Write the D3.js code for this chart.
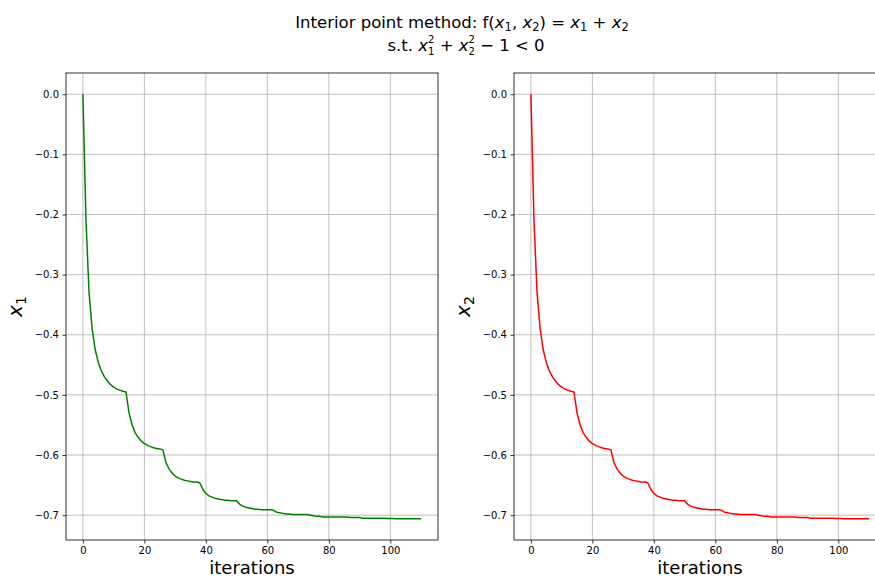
<!DOCTYPE html>
<html>
<head>
<meta charset="utf-8">
<script src="https://cdn.jsdelivr.net/npm/d3@7"></script>
<style>
  html, body { margin: 0; padding: 0; background: #fff; overflow: hidden; }
  svg { display: block; font-family: "DejaVu Sans", sans-serif; }
</style>
</head>
<body>
<svg id="chart" width="875" height="578"></svg>
<script>
// Iteration index of every recorded step
const iterations = d3.range(0, 111);

// Trajectory of x1 under the log-barrier interior point method
const x1Values = [
  0.000, -0.210, -0.330, -0.390, -0.425, -0.446, -0.460, -0.470, -0.477, -0.483,
  -0.487, -0.490, -0.492, -0.494, -0.495,
  -0.530, -0.550, -0.563, -0.571, -0.577, -0.581, -0.584, -0.586, -0.588, -0.589,
  -0.590, -0.591,
  -0.612, -0.623, -0.630, -0.635, -0.638, -0.640, -0.642, -0.643, -0.644, -0.645,
  -0.645, -0.646,
  -0.657, -0.664, -0.668, -0.670, -0.672, -0.673, -0.674, -0.675, -0.675, -0.676,
  -0.676, -0.676,
  -0.682, -0.685, -0.687, -0.688, -0.689, -0.690, -0.690, -0.691, -0.691, -0.691,
  -0.691, -0.692,
  -0.695, -0.696, -0.697, -0.698, -0.698, -0.699, -0.699, -0.699, -0.699, -0.699,
  -0.699, -0.700,
  -0.701, -0.702, -0.702, -0.703, -0.703, -0.703, -0.703, -0.703, -0.703, -0.703,
  -0.703, -0.703,
  -0.704, -0.704, -0.704, -0.704, -0.705, -0.705, -0.705, -0.705, -0.705, -0.705,
  -0.705, -0.705,
  -0.7055, -0.7055, -0.7055, -0.706, -0.706, -0.706, -0.706, -0.706, -0.706, -0.706,
  -0.706, -0.706
];

// Trajectory of x2 (the problem is symmetric, so it follows x1)
const x2Values = [
  0.000, -0.210, -0.330, -0.390, -0.425, -0.446, -0.460, -0.470, -0.477, -0.483,
  -0.487, -0.490, -0.492, -0.494, -0.495,
  -0.530, -0.550, -0.563, -0.571, -0.577, -0.581, -0.584, -0.586, -0.588, -0.589,
  -0.590, -0.591,
  -0.612, -0.623, -0.630, -0.635, -0.638, -0.640, -0.642, -0.643, -0.644, -0.645,
  -0.645, -0.646,
  -0.657, -0.664, -0.668, -0.670, -0.672, -0.673, -0.674, -0.675, -0.675, -0.676,
  -0.676, -0.676,
  -0.682, -0.685, -0.687, -0.688, -0.689, -0.690, -0.690, -0.691, -0.691, -0.691,
  -0.691, -0.692,
  -0.695, -0.696, -0.697, -0.698, -0.698, -0.699, -0.699, -0.699, -0.699, -0.699,
  -0.699, -0.700,
  -0.701, -0.702, -0.702, -0.703, -0.703, -0.703, -0.703, -0.703, -0.703, -0.703,
  -0.703, -0.703,
  -0.704, -0.704, -0.704, -0.704, -0.705, -0.705, -0.705, -0.705, -0.705, -0.705,
  -0.705, -0.705,
  -0.7055, -0.7055, -0.7055, -0.706, -0.706, -0.706, -0.706, -0.706, -0.706, -0.706,
  -0.706, -0.706
];

const xTicks = [0, 20, 40, 60, 80, 100];
const yTicks = [0.0, -0.1, -0.2, -0.3, -0.4, -0.5, -0.6, -0.7];

const panels = [
  { values: x1Values, color: "#008000", sub: "1", left: 66 },
  { values: x2Values, color: "#ff0000", sub: "2", left: 514 }
];

const svg = d3.select("#chart");
const plotW = 372, plotTop = 73, plotBottom = 540;
const fmt = v => d3.format(".1f")(v).replace("-", "\u2212");

// autoscale with 5% padding on each side
function padded(ext) {
  const m = (ext[1] - ext[0]) * 0.05;
  return [ext[0] - m, ext[1] + m];
}

panels.forEach(p => {
  const x = d3.scaleLinear().domain(padded(d3.extent(iterations))).range([p.left, p.left + plotW]);
  const y = d3.scaleLinear().domain(padded(d3.extent(p.values))).range([plotBottom, plotTop]);
  const g = svg.append("g");

  // grid
  g.append("g").selectAll("line").data(xTicks).join("line")
    .attr("x1", d => x(d)).attr("x2", d => x(d)).attr("y1", plotTop).attr("y2", plotBottom)
    .attr("stroke", "#b0b0b0").attr("stroke-width", 0.8);
  g.append("g").selectAll("line").data(yTicks).join("line")
    .attr("x1", p.left).attr("x2", p.left + plotW).attr("y1", d => y(d)).attr("y2", d => y(d))
    .attr("stroke", "#b0b0b0").attr("stroke-width", 0.8);

  // trajectory
  g.append("path")
    .datum(iterations.map((it, i) => [it, p.values[i]]))
    .attr("fill", "none").attr("stroke", p.color).attr("stroke-width", 1.5)
    .attr("stroke-linejoin", "round")
    .attr("d", d3.line().x(d => x(d[0])).y(d => y(d[1])));

  // axes
  const xAxis = g.append("g").attr("transform", `translate(0,${plotBottom})`)
    .call(d3.axisBottom(x).tickValues(xTicks).tickSize(3.5).tickPadding(3.5).tickFormat(d3.format("d")));
  const yAxis = g.append("g").attr("transform", `translate(${p.left},0)`)
    .call(d3.axisLeft(y).tickValues(yTicks).tickSize(3.5).tickPadding(3.5).tickFormat(fmt));
  [xAxis, yAxis].forEach(a => {
    a.select(".domain").remove();
    a.selectAll("line").attr("stroke", "#000").attr("stroke-width", 0.8);
    a.selectAll("text").attr("font-family", "DejaVu Sans").attr("font-size", 10).attr("fill", "#000");
  });

  // frame
  g.append("rect").attr("x", p.left).attr("y", plotTop).attr("width", plotW).attr("height", plotBottom - plotTop)
    .attr("fill", "none").attr("stroke", "#000").attr("stroke-width", 0.8);

  // axis labels
  g.append("text").attr("x", p.left + plotW / 2).attr("y", 574)
    .attr("text-anchor", "middle").attr("font-size", 18).text("iterations");

  const yl = g.append("text")
    .attr("transform", `translate(${p.left - 44},${(plotTop + plotBottom) / 2}) rotate(-90)`)
    .attr("text-anchor", "middle").attr("font-size", 20);
  yl.append("tspan").attr("font-style", "italic").text("x");
  yl.append("tspan").attr("font-size", 14).attr("dy", 4).text(p.sub);
});

// Figure title
const cx = 462;
const titleSize = 16.5, scriptSize = 11.5, stackSize = 10;
const t1 = svg.append("text").attr("x", cx).attr("y", 28).attr("text-anchor", "middle").attr("font-size", titleSize);
function mathX(t, sub) {
  t.append("tspan").attr("font-style", "italic").text("x");
  t.append("tspan").attr("font-size", scriptSize).attr("dy", 3).text(sub);
  return t;
}
t1.append("tspan").text("Interior point method: f(");
mathX(t1, "1");
t1.append("tspan").attr("dy", -3).text(", ");
mathX(t1, "2");
t1.append("tspan").attr("dy", -3).text(") = ");
mathX(t1, "1");
t1.append("tspan").attr("dy", -3).text(" + ");
mathX(t1, "2");
t1.append("tspan").attr("dy", -3).text("");

const t2 = svg.append("text").attr("x", cx + 4).attr("y", 51).attr("text-anchor", "middle").attr("font-size", titleSize);
// x with a superscript 2 stacked over its subscript index
function mathSq(t, sub) {
  t.append("tspan").attr("font-style", "italic").text("x");
  t.append("tspan").attr("font-size", stackSize).attr("dy", -8.5).text("2");
  const w = stackSize * 0.636;
  t.append("tspan").attr("font-size", stackSize).attr("dx", -w).attr("dy", 12).text(sub);
  return t;
}
t2.append("tspan").text("s.t. ");
mathSq(t2, "1");
t2.append("tspan").attr("dy", -3.5).text(" + ");
mathSq(t2, "2");
t2.append("tspan").attr("dy", -3.5).text(" \u2212 1 < 0");
</script>
</body>
</html>
